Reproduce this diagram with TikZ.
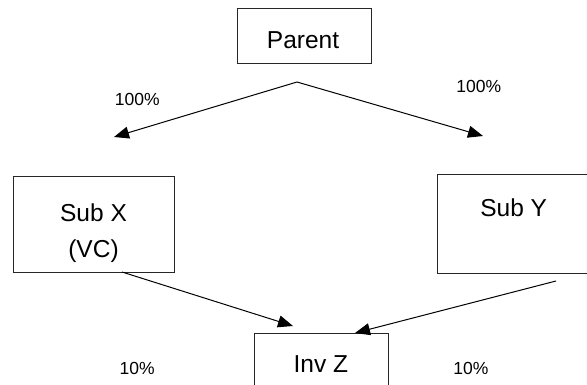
\documentclass[tikz,border=0pt]{standalone}
\usepackage{fontspec}
\setmainfont{Liberation Sans}
\usetikzlibrary{arrows.meta}
\begin{document}
\begin{tikzpicture}[x=1pt, y=-1pt,
    box/.style={draw=black!85, line width=1pt, inner sep=0pt},
    lbl/.style={anchor=base, inner sep=0pt, font=\fontsize{24.5}{29}\selectfont},
    pct/.style={anchor=base, inner sep=0pt, font=\fontsize{17.5}{21}\selectfont},
    link/.style={-{Triangle[length=15pt,width=12pt]}, line width=1pt}]
        \clip (0,0) rectangle (587,385);
        \node[box, minimum width=134pt, minimum height=55pt] (parent) at (304,36.5) {};
        \node[box, minimum width=161pt, minimum height=95pt] (subx) at (93.5,224.5) {};
        \node[box, minimum width=163pt, minimum height=98pt] (suby) at (518.5,224) {};
        \node[box, minimum width=134pt, minimum height=60pt] (invz) at (321,363) {};
        \node[lbl] (parenttxt) at (303,48.3) {Parent};
        \node[lbl] (subxtxt) at (93.5,222) {Sub X};
        \node[lbl] (subxvc) at (93.5,257.5) {(VC)};
        \node[lbl] (subytxt) at (513.7,216.5) {Sub Y};
        \node[lbl] (invztxt) at (320.8,372) {Inv Z};
        \node[pct] (pctx) at (137.2,106) {100\%};
        \node[pct] (pcty) at (478.8,92.8) {100\%};
        \node[pct] (pctxz) at (137.2,374) {10\%};
        \node[pct] (pctyz) at (470.8,374.4) {10\%};
        \coordinate (split) at (297,82);
        \coordinate (tox) at (114,137);
        \coordinate (toy) at (483,136);
        \coordinate (xout) at (122,272);
        \coordinate (yout) at (556,281);
        \coordinate (zinx) at (293,326);
        \coordinate (ziny) at (355,333);
        \draw[link] (split)--(tox);
        \draw[link] (split)--(toy);
        \draw[link] (xout)--(zinx);
        \draw[link] (yout)--(ziny);
    \end{tikzpicture}
\end{document}
